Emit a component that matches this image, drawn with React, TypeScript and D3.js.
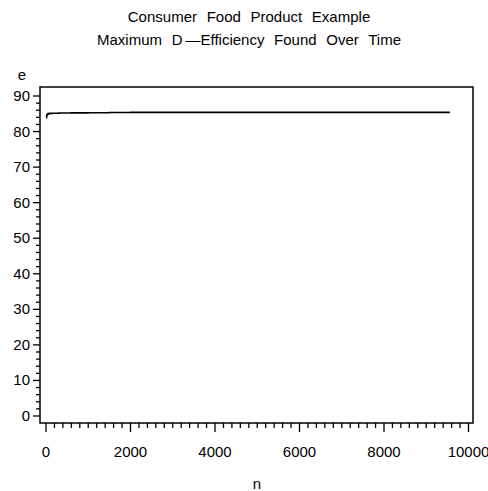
import * as d3 from 'd3';
import React, {useRef, useEffect} from 'react';

// max D-efficiency found vs. iteration count
const nValues = [0, 15, 30, 50, 80, 150, 300, 600, 1000, 1500, 2000, 4000, 6000, 9560];
const effValues = [83.9, 84.6, 84.9, 85.05, 85.1, 85.15, 85.2, 85.25, 85.3, 85.38, 85.4, 85.4, 85.4, 85.4];
const xTicks = [0, 2000, 4000, 6000, 8000, 10000];
const yTicks = [0, 10, 20, 30, 40, 50, 60, 70, 80, 90];
const titles = ['Consumer Food Product Example', 'Maximum D\u2009\u2014Efficiency Found Over Time'];

const W = 488, H = 491;

const App = () => {
  const ref = useRef<SVGSVGElement>(null);

  useEffect(() => {
    const svg = d3.select(ref.current);
    svg.selectAll('*').remove();

    const frameL = 40, frameR = 473, frameT = 87, frameB = 423;
    const x = d3.scaleLinear().domain([0, 10000]).range([46, 468.5]);
    const y = d3.scaleLinear().domain([0, 90]).range([416, 96]);
    const font = 'Liberation Sans, Arial, sans-serif';

    // titles
    svg.selectAll('text.title').data(titles).enter().append('text')
      .attr('class', 'title')
      .attr('x', 249).attr('y', (d, i) => 22 + i * 23)
      .attr('text-anchor', 'middle')
      .attr('font-family', font).attr('font-size', 15)
      .attr('word-spacing', 5.5)
      .text(d => d);

    // frame
    svg.append('rect')
      .attr('x', frameL).attr('y', frameT)
      .attr('width', frameR - frameL).attr('height', frameB - frameT)
      .attr('fill', 'none').attr('stroke', '#000').attr('stroke-width', 1.5);

    // y ticks
    const yMinor = d3.range(0, 91, 2).filter(v => v % 10 !== 0);
    svg.selectAll('line.ymaj').data(yTicks).enter().append('line')
      .attr('x1', frameL - 7).attr('x2', frameL)
      .attr('y1', d => y(d)).attr('y2', d => y(d))
      .attr('stroke', '#000').attr('stroke-width', 1.3);
    svg.selectAll('line.ymin').data(yMinor).enter().append('line')
      .attr('x1', frameL - 4).attr('x2', frameL)
      .attr('y1', d => y(d)).attr('y2', d => y(d))
      .attr('stroke', '#000').attr('stroke-width', 1.3);
    svg.selectAll('text.ylab').data(yTicks).enter().append('text')
      .attr('x', frameL - 10).attr('y', d => y(d) + 5)
      .attr('text-anchor', 'end')
      .attr('font-family', font).attr('font-size', 15)
      .text(d => d);

    // x ticks
    const xMinor = d3.range(0, 10001, 200).filter(v => v % 2000 !== 0);
    svg.selectAll('line.xmaj').data(xTicks).enter().append('line')
      .attr('x1', d => x(d)).attr('x2', d => x(d))
      .attr('y1', frameB).attr('y2', frameB + 9)
      .attr('stroke', '#000').attr('stroke-width', 1.3);
    svg.selectAll('line.xmin').data(xMinor).enter().append('line')
      .attr('x1', d => x(d)).attr('x2', d => x(d))
      .attr('y1', frameB).attr('y2', frameB + 5)
      .attr('stroke', '#000').attr('stroke-width', 1.3);
    svg.selectAll('text.xlab').data(xTicks).enter().append('text')
      .attr('x', d => x(d)).attr('y', frameB + 34)
      .attr('text-anchor', 'middle')
      .attr('font-family', font).attr('font-size', 15)
      .text(d => d);

    // axis labels
    svg.append('text').attr('x', 22).attr('y', 80)
      .attr('text-anchor', 'middle')
      .attr('font-family', font).attr('font-size', 15).text('e');
    svg.append('text').attr('x', 257).attr('y', 489)
      .attr('text-anchor', 'middle')
      .attr('font-family', font).attr('font-size', 15).text('n');

    // line
    const line = d3.line<number>()
      .x((d, i) => x(nValues[i]))
      .y(d => y(d))
      .curve(d3.curveStepAfter);
    svg.append('path')
      .datum(effValues)
      .attr('d', line)
      .attr('fill', 'none').attr('stroke', '#000').attr('stroke-width', 1.6);
  });

  return (
    <svg ref={ref} width={W} height={H} style={{position: 'absolute', left: 0, top: 0, background: '#fff'}} />
  );
};

export default App;
